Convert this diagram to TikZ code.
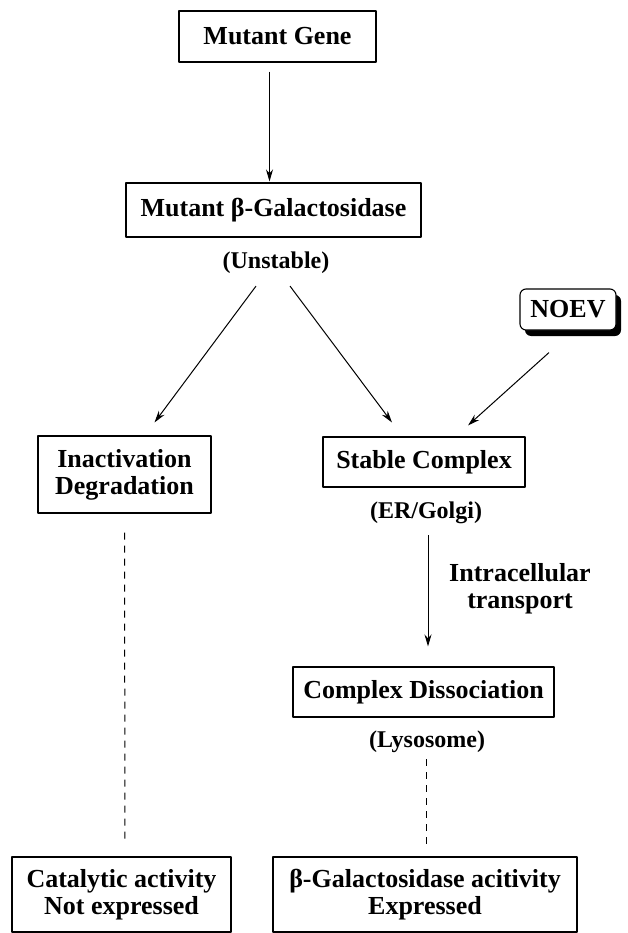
\documentclass[tikz,border=0pt]{standalone}
\usepackage{fontspec}
\setmainfont{Liberation Serif}
\usetikzlibrary{arrows.meta,shadows}
\begin{document}
\begin{tikzpicture}[x=1pt, y=-1pt, line join=round, >={Stealth[length=12pt,width=7pt]},
		box/.style={draw, line width=1.1pt, inner sep=0pt, align=center, font=\bfseries\fontsize{26}{27}\selectfont},
		note/.style={inner sep=0pt, align=center, font=\bfseries\fontsize{24}{26}\selectfont},
		link/.style={->, line width=1pt},
		trace/.style={line width=1pt, dash pattern=on 7pt off 6pt}]
		\useasboundingbox (0,0) rectangle (627,933);
		% boxes
		\node[box, minimum width=197pt, minimum height=51pt] (gene) at (277.5,36.5) {Mutant Gene};
		\node[box, minimum width=295pt, minimum height=54pt] (galac) at (273.5,210) {Mutant β-Galactosidase};
		\node[note] (unstable) at (276,263) {(Unstable)};
		\node[box, rounded corners=6pt, fill=white, minimum width=96pt, minimum height=41pt,
			drop shadow={shadow xshift=5pt, shadow yshift=-6pt, fill=black, opacity=1}] (noev) at (568,309.5) {NOEV};
		\node[box, minimum width=173pt, minimum height=77pt] (inact) at (124.5,474.5) {Inactivation\\Degradation};
		\node[box, minimum width=202pt, minimum height=50pt] (stable) at (424,462) {Stable Complex};
		\node[note] (ergolgi) at (426,513) {(ER/Golgi)};
		\node[box, draw=none] (transport) at (520,588.5) {Intracellular\\transport};
		\node[box, minimum width=261pt, minimum height=50pt] (dissoc) at (423.5,692) {Complex Dissociation};
		\node[note] (lyso) at (427,742) {(Lysosome)};
		\node[box, minimum width=219pt, minimum height=75pt] (catal) at (121.5,894.5) {Catalytic activity\\Not expressed};
		\node[box, minimum width=304pt, minimum height=75pt] (expr) at (425,894.5) {β-Galactosidase acitivity\\Expressed};
		% arrows
		\draw[link] ([xshift=-8pt,yshift=-9pt]gene.south) -- ([xshift=-4pt,yshift=1pt]galac.north);
		\draw[link] ([xshift=-20pt,yshift=-12pt]unstable.south) -- ([xshift=30pt,yshift=13pt]inact.north);
		\draw[link] ([xshift=14pt,yshift=-12pt]unstable.south) -- ([xshift=-32pt,yshift=14pt]stable.north);
		\draw[link] ([xshift=-19pt,yshift=-22pt]noev.south) -- ([xshift=44pt,yshift=11pt]stable.north);
		\draw[link] ([xshift=2pt,yshift=-11pt]ergolgi.south) -- ([xshift=4.5pt,yshift=20pt]dissoc.north);
		\draw[trace] ([yshift=-19pt]inact.south) -- ([xshift=3.5pt,yshift=12pt]catal.north);
		\draw[trace] ([xshift=-1pt,yshift=-6pt]lyso.south) -- ([xshift=1pt,yshift=11pt]expr.north);
	\end{tikzpicture}
\end{document}
